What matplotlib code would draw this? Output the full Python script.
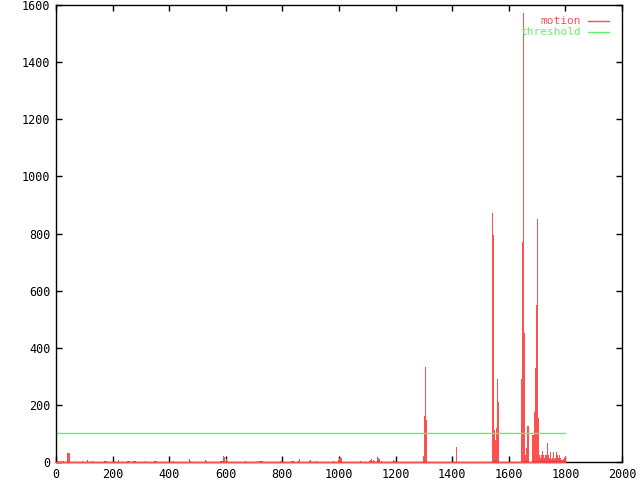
import numpy as np
import matplotlib
matplotlib.use("Agg")
import matplotlib.pyplot as plt

# per-frame motion (frames not listed are ~0)
n_frames = 1801
spike_frames = [25, 39, 42, 46, 92, 110, 127, 170, 174, 177, 219, 251, 255, 258,
                272, 276, 279, 314, 346, 350, 353, 413, 470, 474, 527, 530,
                580, 584, 587, 590, 594, 601, 604,
                668, 710, 717, 721, 724, 728, 792, 830, 834, 838, 855, 859,
                894, 898, 919, 979, 997, 1000, 1004, 1007, 1074, 1106, 1110,
                1113, 1120, 1124, 1134, 1138, 1141, 1148, 1191, 1194,
                1298, 1301, 1304, 1308, 1413,
                1541, 1544, 1548, 1551, 1555, 1558, 1562,
                1643, 1647, 1650, 1654, 1657, 1661, 1664, 1668,
                1682, 1686, 1689, 1693, 1696, 1700, 1703, 1707,
                1710, 1714, 1717, 1721, 1724, 1728, 1731, 1735, 1738, 1742,
                1746, 1749, 1753, 1756, 1760, 1763, 1767, 1770, 1774, 1777,
                1781, 1784, 1788, 1791, 1795, 1799]
spike_values = [3, 31, 31, 31, 3, 7, 3, 3, 3, 3, 7, 3, 3, 3,
                3, 3, 3, 3, 3, 3, 3, 3, 10, 3, 7, 3,
                3, 3, 3, 21, 17, 10, 3,
                3, 3, 3, 3, 3, 3, 3, 3, 3, 3, 3, 10,
                3, 7, 3, 3, 7, 14, 17, 14, 3, 3, 7,
                10, 7, 3, 17, 14, 10, 3, 7, 3,
                20, 162, 334, 147, 52,
                873, 795, 112, 77, 119, 290, 211,
                292, 771, 1573, 451, 24, 49, 126, 126,
                95, 95, 175, 328, 549, 851, 154, 24,
                14, 24, 38, 24, 14, 24, 24, 68, 24, 14,
                35, 10, 14, 35, 10, 14, 35, 24, 14, 24,
                14, 7, 7, 10, 14, 20]
threshold_value = 100

frames = np.arange(n_frames)
motion = np.zeros(n_frames)
motion[spike_frames] = spike_values
threshold = np.full(n_frames, threshold_value)

red = "#ff5050"
green = "#66f066"
mono = "DejaVu Sans Mono"

fig = plt.figure(figsize=(6.4, 4.8), dpi=100)
ax = fig.add_axes([0.0875, 0.0375, 0.8845, 0.952])

# impulses, one pixel wide like gnuplot
ax.vlines(frames, 0, motion, color=red, lw=0.6, antialiased=False)
ax.plot([frames[0], frames[-1]], [0, 0], color=red, lw=1.0, zorder=3, clip_on=False)
ax.plot(frames, threshold, color=green, lw=1.0)

ax.set_xlim(0, 2000)
ax.set_ylim(0, 1600)
ax.set_xticks(np.arange(0, 2001, 200))
ax.set_yticks(np.arange(0, 1601, 200))
ax.tick_params(direction="in", length=4, width=1, top=True, right=True,
               labelsize=8.5, pad=4)
for lab in ax.get_xticklabels() + ax.get_yticklabels():
    lab.set_family(mono)
for sp in ax.spines.values():
    sp.set_linewidth(1)

# gnuplot-style key, top right
ax.text(0.928, 0.964, "motion", color=red, family=mono, fontsize=8,
        ha="right", va="center", transform=ax.transAxes)
ax.plot([0.94, 0.977], [0.965, 0.965], color=red, lw=1, transform=ax.transAxes)
ax.text(0.928, 0.940, "threshold", color=green, family=mono, fontsize=8,
        ha="right", va="center", transform=ax.transAxes)
ax.plot([0.94, 0.977], [0.941, 0.941], color=green, lw=1, transform=ax.transAxes)

fig.savefig("out.png", dpi=100)
